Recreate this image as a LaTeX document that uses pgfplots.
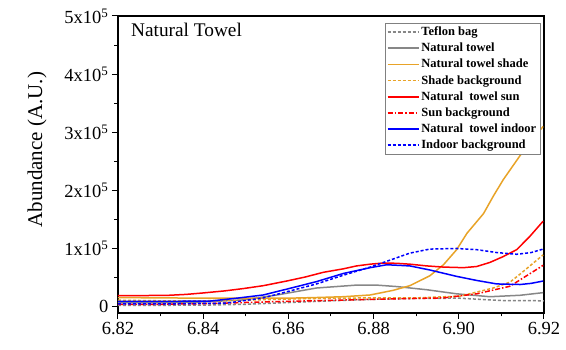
\documentclass[border=0pt]{standalone}
\usepackage{pgfplots}
\pgfplotsset{compat=1.18}
\usepackage{fontspec}
\setmainfont{Liberation Serif}
\definecolor{myorange}{RGB}{232,163,40}
\definecolor{mygray}{RGB}{135,135,135}
\begin{document}
\begin{tikzpicture}
\path[use as bounding box] (-118pt,-37pt) rectangle (448pt,313pt);
\begin{axis}[
  scale only axis, width=426pt, height=297pt,
  xmin=6.82, xmax=6.92, ymin=-11000, ymax=500000,
  xtick={6.82,6.84,...,6.92},
  xticklabels={6.82,6.84,6.86,6.88,6.90,6.92},
  minor xtick={6.83,6.85,...,6.91},
  ytick={0,100000,200000,300000,400000,500000},
  yticklabels={0,1x10\textsuperscript{5},2x10\textsuperscript{5},3x10\textsuperscript{5},4x10\textsuperscript{5},5x10\textsuperscript{5}},
  minor ytick={50000,150000,250000,350000,450000},
  scaled ticks=false,
  /pgf/number format/assume math mode=true,
  tick align=outside, xtick pos=bottom, ytick pos=left,
  major tick length=6pt, minor tick length=3.5pt,
  every tick/.style={black, line width=1pt},
  axis line style={line width=1.2pt},
  ticklabel style={font=\fontsize{18.5}{20}\selectfont},
  ylabel={Abundance (A.U.)},
  ylabel style={font=\fontsize{21}{24}\selectfont, at={(axis description cs:-0.19,0.55)}, anchor=center},
  legend style={at={(axis description cs:0.9906,0.976)}, anchor=north east,
    draw=gray, font=\bfseries\fontsize{12.5}{14}\selectfont,
    row sep=2pt, inner sep=1.5pt, cells={anchor=west}},
  legend image code/.code={\draw[#1, line width=1.6pt] (0pt,0pt) -- (31pt,0pt);},
  clip=true,
]
\addplot[mygray, line width=1.5pt, dash pattern=on 3pt off 2pt] coordinates {
(6.820,2000)(6.840,2500)(6.850,4000)(6.860,7000)(6.870,10000)(6.880,12500)(6.890,14000)(6.900,14500)(6.905,12500)(6.910,10500)(6.920,10000)};
\addlegendentry{Teflon bag}
\addplot[mygray, line width=1.5pt] coordinates {
(6.820,7000)(6.830,7000)(6.840,8000)(6.8494,11500)(6.8573,20000)(6.8666,32000)(6.8760,37000)(6.8807,37000)(6.8854,34500)(6.8925,29000)(6.8995,22000)(6.9073,17000)(6.9144,19500)(6.9198,24000)};
\addlegendentry{Natural towel}
\addplot[myorange, line width=1.5pt] coordinates {
(6.820,15500)(6.830,15000)(6.840,14500)(6.850,14500)(6.860,14500)(6.866,15500)(6.8729,17000)(6.8792,20000)(6.8846,28000)(6.8885,36000)(6.8932,53000)(6.8964,72000)(6.8995,98000)(6.9019,126000)(6.9058,160000)(6.9081,190000)(6.9104,218000)(6.9144,260000)(6.9170,285000)(6.9198,310000)};
\addlegendentry{Natural towel shade}
\addplot[myorange, line width=1.5pt, dash pattern=on 3pt off 2pt] coordinates {
(6.820,11000)(6.830,10000)(6.840,10000)(6.850,11000)(6.860,13000)(6.870,14500)(6.880,15000)(6.890,15000)(6.9003,18000)(6.9081,32000)(6.912,42000)(6.9144,56000)(6.9198,89000)};
\addlegendentry{Shade background}
\addplot[red, line width=1.5pt] coordinates {
(6.820,19000)(6.826,19000)(6.832,19500)(6.836,21000)(6.840,23500)(6.845,27000)(6.8494,31000)(6.8541,36000)(6.8596,44000)(6.8640,51000)(6.8682,59000)(6.8729,65000)(6.8760,70000)(6.8792,73000)(6.8823,75000)(6.8854,74500)(6.8885,73000)(6.8925,70000)(6.8964,68000)(6.9011,67000)(6.9042,69000)(6.9073,76000)(6.9104,86000)(6.9136,98000)(6.9167,121000)(6.9198,147000)};
\addlegendentry{Natural\ \ towel sun}
\addplot[red, line width=1.5pt, dash pattern=on 5pt off 2pt on 1.5pt off 2pt] coordinates {
(6.820,4000)(6.830,4000)(6.840,5000)(6.8573,8600)(6.8807,12700)(6.8964,15000)(6.9042,22000)(6.912,35000)(6.9198,71000)};
\addlegendentry{Sun background}
\addplot[blue, line width=1.5pt] coordinates {
(6.820,9000)(6.830,9000)(6.8416,9500)(6.8479,14500)(6.8541,20000)(6.8596,30000)(6.8666,43000)(6.8729,57000)(6.8792,67000)(6.8831,72000)(6.8885,70000)(6.8932,63000)(6.8995,52000)(6.9042,45000)(6.9089,39000)(6.9144,38000)(6.9170,40000)(6.9198,44000)};
\addlegendentry{Natural\ \ towel indoor}
\addplot[blue, line width=1.5pt, dash pattern=on 3pt off 2pt] coordinates {
(6.820,4800)(6.830,4500)(6.8455,6000)(6.8541,15000)(6.8604,27000)(6.8666,39000)(6.8729,54000)(6.8792,68000)(6.8831,78000)(6.8885,92000)(6.8932,99000)(6.8995,100000)(6.9042,98000)(6.9089,93000)(6.9136,90000)(6.9170,93000)(6.9198,99000)};
\addlegendentry{Indoor background}
\node[anchor=west, inner sep=0pt, font=\fontsize{19.3}{22}\selectfont] at (axis description cs:0.0305,0.953) {Natural Towel};
\end{axis}
\end{tikzpicture}
\end{document}
